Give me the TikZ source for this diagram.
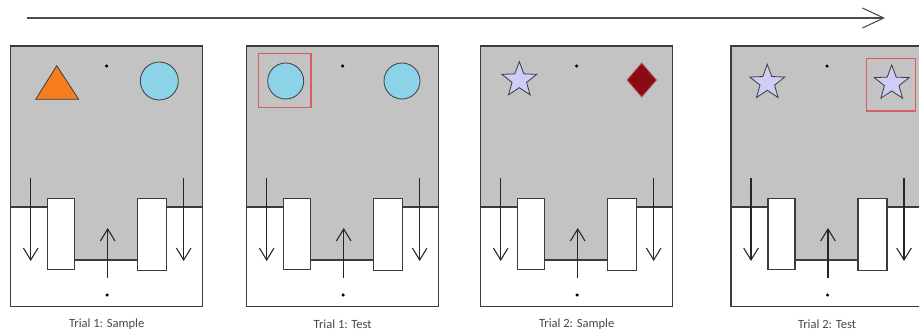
\documentclass[tikz,border=0pt]{standalone}
\usepackage{fontspec}
\setmainfont{Carlito}
\usetikzlibrary{arrows.meta,shapes.geometric}

\definecolor{boxgray}{RGB}{195,195,195}
\definecolor{edge}{RGB}{60,60,60}
\definecolor{tri}{RGB}{245,125,30}
\definecolor{ball}{RGB}{140,210,232}
\definecolor{lilac}{RGB}{205,205,245}
\definecolor{ruby}{RGB}{140,10,20}
\definecolor{pick}{RGB}{215,95,95}

\tikzset{
  arena/.style={draw=edge,line width=0.8pt},
  door/.style={draw=edge,fill=white,line width=0.8pt},
  run/.style={draw=black!85,line width=0.8pt,-{Straight Barb[length=9pt,width=11pt]}},
  spot/.style={circle,fill=black,inner sep=0pt,minimum size=2.6pt},
  caption/.style={font=\fontsize{9.4}{11}\selectfont,text=black!72},
  cue/.style={draw=edge,line width=0.6pt,inner sep=0pt},
  choice/.style={draw=pick,line width=0.8pt}
}

\begin{document}
\begin{tikzpicture}[x=0.75pt,y=-0.75pt]
\useasboundingbox (0,0) rectangle (919,333);
\clip (0,0) rectangle (919,333);

% time line
\coordinate (start) at (27,18);
\coordinate (end) at (885,18);
\draw[draw=black!70,line width=0.8pt,-{Straight Barb[length=16pt,width=15pt]}] (start) -- (end);

% the four arenas
\foreach \L/\n/\lab in {10.7/1/Trial 1: Sample,246.7/2/Trial 1: Test,480.7/3/Trial 2: Sample,731/4/Trial 2: Test}{
  \fill[boxgray] (\L,46) rectangle (\L+192,207);
  \fill[boxgray] (\L+64,207) rectangle (\L+127,260);
  \draw[arena] (\L,207) -- (\L+37,207);
  \draw[arena] (\L+156,207) -- (\L+192,207);
  \draw[arena] (\L+64,260) -- (\L+127,260);
  \draw[door] (\L+37,198.5) rectangle (\L+64,269.5);
  \draw[door] (\L+127,198.5) rectangle (\L+156,270.5);
  \draw[arena] (\L,46) rectangle (\L+192,306.7);

  \coordinate (ltop\n) at (\L+20,178);
  \coordinate (lbot\n) at (\L+20,261);
  \coordinate (rtop\n) at (\L+173,178);
  \coordinate (rbot\n) at (\L+173,261);
  \coordinate (mbot\n) at (\L+97,278);
  \coordinate (mtop\n) at (\L+97,228);
  \draw[run] (ltop\n) -- (lbot\n);
  \draw[run] (rtop\n) -- (rbot\n);
  \draw[run] (mbot\n) -- (mtop\n);

  \node[spot] (fix\n) at (\L+96,66) {};
  \node[spot] (home\n) at (\L+96.5,295) {};
  \node[caption] (cap\n) at (\L+96,324) {\lab};
}

% trial 1 sample
\draw[cue,fill=tri] (35.7,99.3) -- (56.7,65.7) -- (78.7,99.3) -- cycle;
\node[circle,cue,fill=ball,minimum size=28.5pt] (ballA) at (159.3,81) {};

% trial 1 test
\node[circle,cue,fill=ball,minimum size=27pt] (ballB) at (285.7,81) {};
\node[circle,cue,fill=ball,minimum size=27pt] (ballC) at (402,81) {};
\draw[choice] (258.3,53.3) rectangle (311,107.7);

% trial 2 sample
\node[star,star points=5,star point ratio=2.4,cue,fill=lilac,minimum size=27.5pt] (starA) at (519.3,80) {};
\node[diamond,fill=ruby,draw=ruby!60!white,line width=0.6pt,inner sep=0pt,minimum width=22.5pt,minimum height=26pt] (gem) at (641.7,80) {};

% trial 2 test
\node[star,star points=5,star point ratio=2.4,cue,fill=lilac,minimum size=27.5pt] (starB) at (767.3,82.7) {};
\node[star,star points=5,star point ratio=2.4,cue,fill=lilac,minimum size=27.5pt] (starC) at (891.7,83.3) {};
\draw[choice] (866.7,58.3) rectangle (915.7,111);

\end{tikzpicture}
\end{document}
